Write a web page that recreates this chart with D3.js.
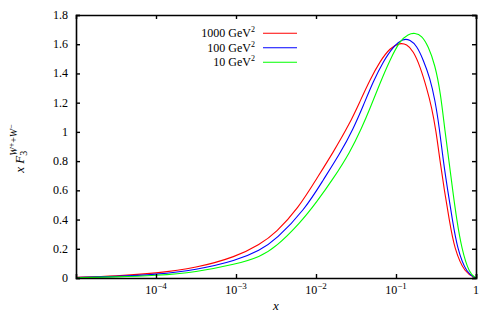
<!DOCTYPE html>
<html>
<head>
<meta charset="utf-8">
<script src="https://cdn.jsdelivr.net/npm/d3@7"></script>
<style>
  body { margin: 0; background: #fff; }
  text { font-family: "Liberation Serif", serif; fill: #000; }
</style>
</head>
<body>
<svg id="chart" width="496" height="319"></svg>
<script>
// x F3 curves for three Q^2 values
const xRed = [1e-5, 3.16e-5, 1e-4, 3.16e-4, 1e-3, 0.002, 0.00316, 0.006, 0.0102, 0.0164, 0.0266, 0.0355, 0.0473, 0.0631, 0.0841, 0.112, 0.136, 0.164, 0.2, 0.242, 0.279, 0.316, 0.355, 0.402, 0.463, 0.536, 0.729, 1];
const yRed = [0.004, 0.014, 0.032, 0.068, 0.145, 0.23, 0.31, 0.477, 0.68, 0.86, 1.06, 1.209, 1.357, 1.483, 1.575, 1.61, 1.6, 1.555, 1.449, 1.30, 1.17, 1.01, 0.8, 0.6, 0.4, 0.2, 0.03, 0];

const xBlue = [1e-5, 3.16e-5, 1e-4, 3.16e-4, 1e-3, 0.002, 0.00316, 0.00729, 0.0123, 0.02, 0.0292, 0.039, 0.052, 0.0694, 0.0925, 0.123, 0.15, 0.1815, 0.219, 0.266, 0.307, 0.348, 0.39, 0.443, 0.506, 0.584, 0.765, 1];
const yBlue = [0.003, 0.01, 0.024, 0.055, 0.118, 0.19, 0.262, 0.47, 0.671, 0.853, 1.02, 1.18, 1.346, 1.483, 1.585, 1.64, 1.63, 1.59, 1.494, 1.369, 1.22, 1.03, 0.8, 0.6, 0.4, 0.2, 0.03, 0];

const xGreen = [1e-5, 3.16e-5, 1e-4, 3.16e-4, 1e-3, 0.002, 0.00316, 0.00631, 0.0102, 0.01644, 0.0266, 0.0373, 0.0473, 0.0631, 0.0841, 0.1122, 0.1425, 0.1727, 0.2096, 0.2535, 0.307, 0.36, 0.41, 0.46, 0.511, 0.574, 0.662, 0.824, 1];
const yGreen = [0.002, 0.007, 0.016, 0.04, 0.094, 0.145, 0.212, 0.375, 0.52, 0.68, 0.86, 1.027, 1.16, 1.334, 1.494, 1.625, 1.67, 1.678, 1.66, 1.586, 1.46, 1.27, 1.0, 0.8, 0.6, 0.4, 0.2, 0.03, 0];

const legendLabels = ["1000", "100", "10"];
const seriesColors = ["#ff0000", "#0000ff", "#00ff00"];

const xTicks = [1e-4, 1e-3, 1e-2, 1e-1, 1];
const xTickExp = ["−4", "−3", "−2", "−1", ""];
const yTicks = [0, 0.2, 0.4, 0.6, 0.8, 1, 1.2, 1.4, 1.6, 1.8];

const series = [
  {x: xRed, y: yRed},
  {x: xBlue, y: yBlue},
  {x: xGreen, y: yGreen}
];

const m = {left: 76, right: 476, top: 15, bottom: 278};

const svg = d3.select("#chart");

const x = d3.scaleLog().domain([1e-5, 1]).range([m.left, m.right]);
const y = d3.scaleLinear().domain([0, 1.8]).range([m.bottom, m.top]);

// curves
const line = d3.line()
  .x(d => x(d[0]))
  .y(d => y(d[1]))
  .curve(d3.curveBasis);

series.forEach((s, i) => {
  svg.append("path")
    .datum(s.x.map((v, j) => [v, s.y[j]]))
    .attr("fill", "none")
    .attr("stroke", seriesColors[i])
    .attr("stroke-width", 1.1)
    .attr("d", line);
});

// axes (ticks point inwards, mirrored on top / right)
const noLabel = () => "";
svg.append("g").attr("transform", `translate(0,${m.bottom})`)
  .call(d3.axisBottom(x).tickValues(xTicks).tickSize(-4).tickFormat(noLabel));
svg.append("g").attr("transform", `translate(0,${m.top})`)
  .call(d3.axisTop(x).tickValues(xTicks).tickSize(-4).tickFormat(noLabel));
svg.append("g").attr("transform", `translate(${m.left},0)`)
  .call(d3.axisLeft(y).tickValues(yTicks).tickSize(-4).tickFormat(noLabel));
svg.append("g").attr("transform", `translate(${m.right},0)`)
  .call(d3.axisRight(y).tickValues(yTicks).tickSize(-4).tickFormat(noLabel));
svg.selectAll(".domain").attr("stroke-width", 1.6);
svg.selectAll(".tick line").attr("stroke-width", 1.4);

// tick labels
svg.selectAll(".ylab").data(yTicks).join("text")
  .attr("class", "ylab")
  .attr("x", m.left - 8)
  .attr("y", d => y(d) + 4)
  .attr("text-anchor", "end")
  .attr("font-size", 12)
  .text(d => d === 0 ? "0" : String(+d.toFixed(1)));

svg.selectAll(".xlab").data(xTicks).join("text")
  .attr("class", "xlab")
  .attr("x", d => x(d))
  .attr("y", m.bottom + 16)
  .attr("text-anchor", "middle")
  .attr("font-size", 12)
  .each(function(d, i) {
    const t = d3.select(this);
    if (xTickExp[i] === "") { t.text("1"); return; }
    t.append("tspan").text("10");
    t.append("tspan").attr("dy", -5).attr("font-size", 9).text(xTickExp[i]);
  });

// axis titles
svg.append("text")
  .attr("x", (m.left + m.right) / 2)
  .attr("y", 310)
  .attr("text-anchor", "middle")
  .attr("font-size", 13)
  .attr("font-style", "italic")
  .text("x");

const yt = svg.append("text")
  .attr("transform", `translate(24,${(m.top + m.bottom) / 2 + 2}) rotate(-90)`)
  .attr("text-anchor", "middle")
  .attr("font-size", 13);
yt.append("tspan").attr("font-style", "italic").text("x F");
yt.append("tspan").attr("font-size", 10).attr("dy", 3).text("3");
yt.append("tspan").attr("font-size", 10).attr("dx", -5).attr("dy", -10).attr("font-style", "italic").text("W");
yt.append("tspan").attr("font-size", 8).attr("dy", -3).text("+");
yt.append("tspan").attr("font-size", 10).attr("dy", 3).text("+");
yt.append("tspan").attr("font-size", 10).attr("font-style", "italic").text("W");
yt.append("tspan").attr("font-size", 8).attr("dy", -3).text("−");

// legend
const legY = [33.3, 47.7, 62.3];
legendLabels.forEach((lab, i) => {
  const t = svg.append("text")
    .attr("x", 255)
    .attr("y", legY[i] + 4)
    .attr("text-anchor", "end")
    .attr("font-size", 12);
  t.append("tspan").text(lab + " GeV");
  t.append("tspan").attr("dy", -5).attr("font-size", 8).text("2");
  svg.append("line")
    .attr("x1", 263).attr("x2", 297)
    .attr("y1", legY[i]).attr("y2", legY[i])
    .attr("stroke", seriesColors[i])
    .attr("stroke-width", 1.1);
});
</script>
</body>
</html>
